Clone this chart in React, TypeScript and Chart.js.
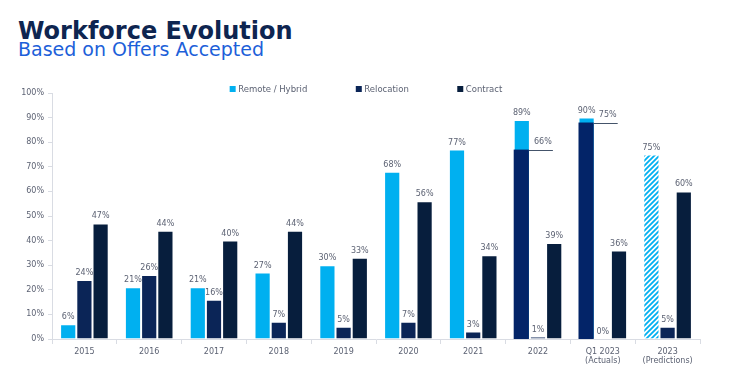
import React, { useEffect, useRef } from "react";
import { Chart, registerables } from "chart.js";

Chart.register(...registerables);

// ---------- data ----------
const categories: (string | string[])[] = [
  "2015", "2016", "2017", "2018", "2019", "2020", "2021", "2022",
  ["Q1 2023", "(Actuals)"],
  ["2023", "(Predictions)"],
];
const seriesNames = ["Remote / Hybrid", "Relocation", "Contract"];
const remoteHybrid = [6, 21, 21, 27, 30, 68, 77, 89, 90, 75];
const relocation = [24, 26, 16, 7, 5, 7, 3, 1, 0, 5];
const contract = [47, 44, 40, 44, 33, 56, 34, 39, 36, 60];
// overlay sub-bars drawn over the Remote / Hybrid bar, with their own callout labels
const overlayHeights: (number | null)[] = [null, null, null, null, null, null, null, 77, 88, null];
const overlayLabels: (string | null)[] = [null, null, null, null, null, null, null, "66%", "75%", null];
const predicted = [false, false, false, false, false, false, false, false, false, true];
const yTickValues = [0, 10, 20, 30, 40, 50, 60, 70, 80, 90, 100];

// ---------- styles ----------
const FONT = "'DejaVu Sans', sans-serif";
const C_REMOTE = "#00B0F0";
const C_RELOC = "#0B2557";
const C_CONTRACT = "#071E3D";
const C_OVERLAY = "#032468";
const C_TEXT = "#5C6273";
const C_AXIS = "#D9DCE3";

export default function App() {
  const ref = useRef<HTMLCanvasElement | null>(null);

  useEffect(() => {
    const canvas = ref.current!;
    const ctx0 = canvas.getContext("2d")!;

    // hatch pattern for predicted bars
    const tile = document.createElement("canvas");
    tile.width = 5;
    tile.height = 5;
    const g = tile.getContext("2d")!;
    g.fillStyle = "#ffffff";
    g.fillRect(0, 0, 5, 5);
    g.strokeStyle = C_REMOTE;
    g.lineWidth = 1.8;
    g.beginPath();
    g.moveTo(-1, 6); g.lineTo(6, -1);
    g.moveTo(-3.5, 3.5); g.lineTo(3.5, -3.5);
    g.moveTo(1.5, 8.5); g.lineTo(8.5, 1.5);
    g.stroke();
    const pattern = ctx0.createPattern(tile, "repeat")!;

    const remoteColors = remoteHybrid.map((_, i) => (predicted[i] ? pattern : C_REMOTE));

    const overlayPlugin = {
      id: "overlayBars",
      afterDatasetsDraw(chart: any) {
        const ctx = chart.ctx;
        const meta = chart.getDatasetMeta(0);
        const y = chart.scales.y;
        ctx.save();
        overlayHeights.forEach((v, i) => {
          if (v == null) return;
          const el = meta.data[i];
          const left = el.x - el.width / 2;
          const right = el.x + el.width / 2 - 1;
          const top = y.getPixelForValue(v);
          const base = y.getPixelForValue(0);
          ctx.fillStyle = C_OVERLAY;
          ctx.fillRect(left, top, right - left, base - top);
          ctx.strokeStyle = "#44546A";
          ctx.lineWidth = 1;
          ctx.beginPath();
          ctx.moveTo(right, Math.round(top) + 0.5);
          ctx.lineTo(right + 24, Math.round(top) + 0.5);
          ctx.stroke();
          ctx.fillStyle = C_TEXT;
          ctx.font = `8px ${FONT}`;
          ctx.textAlign = "center";
          ctx.textBaseline = "bottom";
          ctx.fillText(overlayLabels[i] as string, right + 14, top - 4);
        });
        ctx.restore();
      },
    };

    const labelPlugin = {
      id: "barLabels",
      afterDatasetsDraw(chart: any) {
        const ctx = chart.ctx;
        ctx.save();
        ctx.fillStyle = C_TEXT;
        ctx.font = `8px ${FONT}`;
        ctx.textAlign = "center";
        ctx.textBaseline = "bottom";
        chart.data.datasets.forEach((ds: any, di: number) => {
          const meta = chart.getDatasetMeta(di);
          meta.data.forEach((el: any, i: number) => {
            const v = ds.data[i];
            if (v == null) return;
            ctx.fillText(`${v}%`, el.x, el.y - 3);
          });
        });
        ctx.restore();
      },
    };

    const legendPlugin = {
      id: "customLegend",
      afterDraw(chart: any) {
        const ctx = chart.ctx;
        ctx.save();
        ctx.font = `8.5px ${FONT}`;
        ctx.textBaseline = "middle";
        ctx.textAlign = "left";
        const colors = [C_REMOTE, C_RELOC, C_CONTRACT];
        const box = 6, gap = 2.5, spacing = 48.5;
        const widths = seriesNames.map((n) => box + gap + ctx.measureText(n).width);
        const total = widths.reduce((a, b) => a + b, 0) + spacing * (seriesNames.length - 1);
        let x = chart.width / 2 - total / 2;
        const yc = 89;
        seriesNames.forEach((n, i) => {
          ctx.fillStyle = colors[i];
          ctx.fillRect(x, yc - box / 2, box, box);
          ctx.fillStyle = C_TEXT;
          ctx.fillText(n, x + box + gap, yc + 0.5);
          x += widths[i] + spacing;
        });
        ctx.restore();
      },
    };

    const chart = new Chart(canvas, {
      type: "bar",
      data: {
        labels: categories as any,
        datasets: [
          { label: seriesNames[0], data: remoteHybrid, backgroundColor: remoteColors as any },
          { label: seriesNames[1], data: relocation, backgroundColor: C_RELOC },
          { label: seriesNames[2], data: contract, backgroundColor: C_CONTRACT },
        ],
      },
      options: {
        responsive: false,
        animation: false,
        layout: { padding: { top: 93, right: 32, left: 0, bottom: 0 } },
        datasets: {
          bar: {
            categoryPercentage: 0.75,
            barPercentage: 1,
            borderWidth: 1,
            borderColor: "#ffffff",
          },
        },
        plugins: {
          legend: { display: false },
          tooltip: { enabled: false },
          title: { display: false },
        },
        scales: {
          x: {
            grid: { display: true, drawOnChartArea: false, offset: true, tickLength: 5, color: C_AXIS },
            border: { display: true, color: C_AXIS },
            ticks: { color: C_TEXT, font: { family: FONT, size: 8 }, padding: 3, maxRotation: 0 },
            afterFit: (s: any) => { s.height = 28; },
          },
          y: {
            min: 0,
            max: 100,
            afterBuildTicks: (s: any) => { s.ticks = yTickValues.map((v) => ({ value: v })); },
            grid: { display: true, drawOnChartArea: false, tickLength: 4, color: C_AXIS },
            border: { display: true, color: C_AXIS },
            ticks: { color: C_TEXT, font: { family: FONT, size: 8 }, padding: 4, callback: (v: any) => `${v}%` },
            afterFit: (s: any) => { s.width = 52; },
          },
        },
      },
      plugins: [overlayPlugin, labelPlugin, legendPlugin],
    });
    return () => chart.destroy();
  }, []);

  return (
    <div style={{ position: "absolute", left: 0, top: 0, width: 732, height: 367, background: "#fff", overflow: "hidden" }}>
      <div
        style={{
          position: "absolute", left: 18, top: 19, fontFamily: FONT, fontWeight: 700, fontSize: 24,
          lineHeight: "24px", color: "#0E2550", whiteSpace: "nowrap",
        }}
      >
        Workforce Evolution
      </div>
      <div
        style={{
          position: "absolute", left: 18, top: 40, fontFamily: FONT, fontSize: 19,
          lineHeight: "19px", color: "#1D5FD9", whiteSpace: "nowrap",
        }}
      >
        Based on Offers Accepted
      </div>
      <canvas ref={ref} width={732} height={367} style={{ position: "absolute", left: 0, top: 0, width: 732, height: 367 }} />
    </div>
  );
}
